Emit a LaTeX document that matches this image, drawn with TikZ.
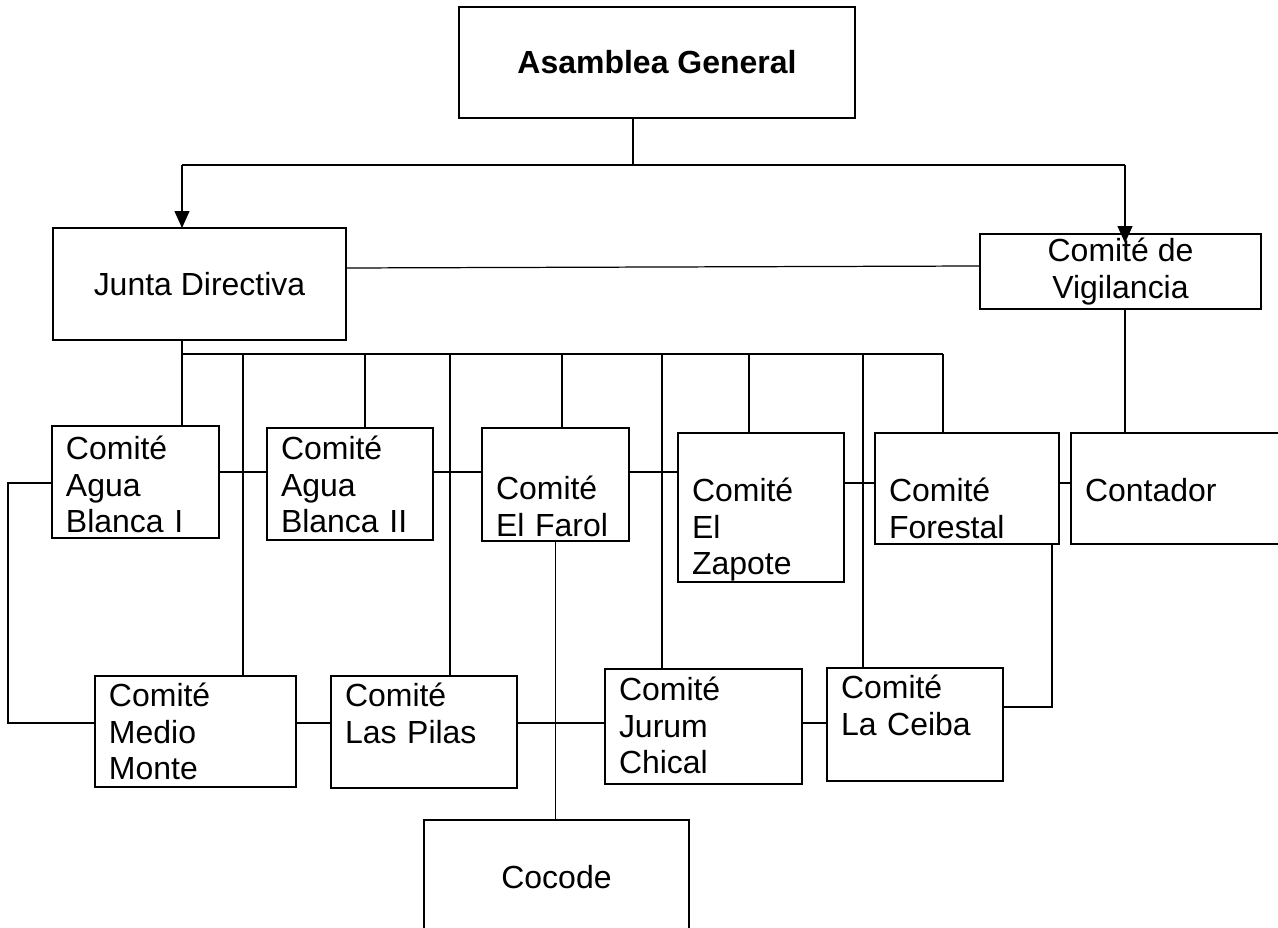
\documentclass[tikz,border=0pt]{standalone}
\usepackage{fontspec}
\setmainfont{Liberation Sans}
\usetikzlibrary{arrows.meta}

\begin{document}
\begin{tikzpicture}[x=0.02cm,y=-0.02cm,line width=0.7pt,
			every node/.style={font=\fontsize{18.2}{20.8}\selectfont},
			main box/.style={draw,line width=0.95pt,align=center,inner sep=0pt,outer sep=0pt},
			comite box/.style={draw,line width=0.95pt,anchor=north west,align=left,inner xsep=0.28cm,inner ysep=0pt,outer sep=0pt},
			arr/.style={-{Triangle[length=0.34cm,width=0.3cm]}}
			]
			
			\def \busy {354};
			
			\useasboundingbox (0,0) rectangle (1278,928);
			
			\node[main box,minimum width=7.92cm,minimum height=2.22cm] (asam) at (657,62.5) {\bfseries Asamblea General};
			\node[main box,minimum width=5.86cm,minimum height=2.24cm] (junta) at (199.5,284) {Junta Directiva};
			\node[main box,minimum width=5.62cm,minimum height=1.5cm] (vig) at (1120.5,271.5) {Comité de\\Vigilancia};
			
			\node[comite box,text width=2.78cm,text height=0.67cm,text depth=1.57cm] (ab1) at (52,426) {Comité\\Agua\\Blanca I};
			\node[comite box,text width=2.76cm,text height=0.63cm,text depth=1.61cm] (ab2) at (267,428) {Comité\\Agua\\Blanca II};
			\node[comite box,text width=2.38cm,text height=1.43cm,text depth=0.83cm] (farol) at (482,428) {Comité\\El Farol};
			\node[comite box,text width=2.76cm,text height=1.37cm,text depth=1.61cm] (zapote) at (678,433) {Comité\\El\\Zapote};
			\node[comite box,text width=3.12cm,text height=1.37cm,text depth=0.85cm] (forestal) at (875,433) {Comité\\Forestal};
			\node[comite box,text width=4.44cm,text height=1.37cm,text depth=0.85cm] (contador) at (1071,433) {Contador};
			
			\node[comite box,text width=3.46cm,text height=0.61cm,text depth=1.61cm] (medio) at (95,676) {Comité\\Medio\\Monte};
			\node[comite box,text width=3.16cm,text height=0.61cm,text depth=1.63cm] (pilas) at (331,676) {Comité\\Las Pilas};
			\node[comite box,text width=3.38cm,text height=0.63cm,text depth=1.67cm] (jurum) at (605,669) {Comité\\Jurum\\Chical};
			\node[comite box,text width=2.96cm,text height=0.61cm,text depth=1.65cm] (ceiba) at (827,668) {Comité\\La Ceiba};
			
			\node[comite box,align=center,text width=4.74cm,text height=1.37cm,text depth=1.63cm] (cocode) at (424,820) {Cocode};
			
			% asamblea
			\coordinate (split) at (633,165);
			\coordinate (jdrop) at (182,165);
			\coordinate (vdrop) at (1125,165);
			\draw (asam.south -| split) -- (split);
			\draw (jdrop) -- (vdrop);
			\draw[arr] (jdrop) -- (jdrop |- junta.north);
			\draw[arr,shorten >=-0.18cm] (vdrop) -- (vdrop |- vig.north);
			\draw ([yshift=0.32cm]junta.east) -- ([yshift=0.11cm]vig.west);
			
			% junta directiva
			\coordinate (bus) at (182,\busy);
			\coordinate (busend) at (943,\busy);
			\draw (junta.south -| bus) -- (bus) -- (busend);
			\foreach \x/\nd in {182/ab1,243/medio,365/ab2,450/pilas,562/farol,662/jurum,749/zapote,863/ceiba,943/forestal} {
				\coordinate (d\nd) at (\x,\busy);
				\draw (d\nd) -- (d\nd |- \nd.north);
			}
			
			\coordinate (ra) at (0,472);
			\coordinate (rb) at (0,483);
			\coordinate (rc) at (0,723);
			\draw (ab1.east |- ra) -- (ab2.west |- ra);
			\draw (ab2.east |- ra) -- (farol.west |- ra);
			\draw (farol.east |- ra) -- (zapote.west |- ra);
			\draw (zapote.east |- rb) -- (forestal.west |- rb);
			\draw (forestal.east |- rb) -- (contador.west |- rb);
			
			\coordinate (lft) at (8,723);
			\draw (ab1.west |- rb) -| (lft) -- (medio.west |- lft);
			\draw (medio.east |- rc) -- (pilas.west |- rc);
			\draw (pilas.east |- rc) -- (jurum.west |- rc);
			\draw (jurum.east |- rc) -- (ceiba.west |- rc);
			
			\coordinate (fr) at (1052,707);
			\draw (forestal.south -| fr) -- (fr) -- (ceiba.east |- fr);
			\draw (farol.south) -- (cocode.north -| farol.south);
			\draw (vig.south -| vdrop) -- (contador.north -| vdrop);
			
			\end{tikzpicture}
\end{document}
